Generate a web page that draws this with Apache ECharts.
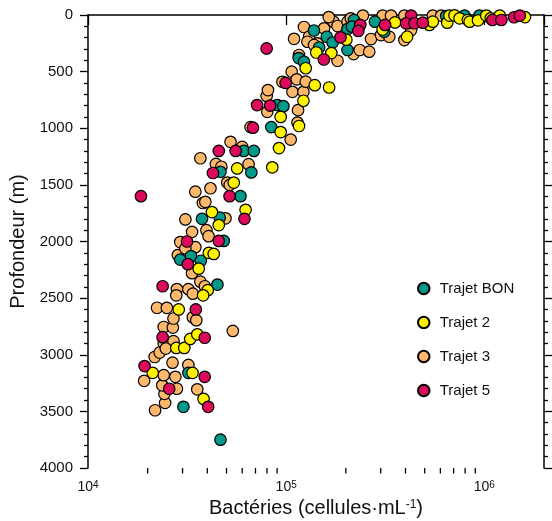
<!DOCTYPE html>
<html>
<head>
<meta charset="utf-8">
<script src="https://cdn.jsdelivr.net/npm/echarts@6/dist/echarts.min.js"></script>
<style>
html,body{margin:0;padding:0;background:#fff;}
#chart{width:552px;height:521px;}
</style>
</head>
<body>
<div id="chart"></div>
<script>
// ---- data (cells per mL, depth in m) ----
const seriesNames = ['Trajet BON', 'Trajet 2', 'Trajet 3', 'Trajet 5'];

const bonCells = [46600,30300,32100,45000,33100,29200,37100,37600,46200,48400,58800,66700,46600,61100,68700,84100,90200,96800,115600,123000,138000,146600,160300,171400,204000,204000,219800,280500,312600,642000,794000,944000,214600];
const bonDepth = [3750,3460,3160,2380,2130,2160,2170,1800,1790,1995,1600,1390,1385,1200,1200,990,795,805,380,413,137,287,192,243,124,309,44,59,148,9,5,5,103];

const t2Cells = [38300,33700,21200,27900,30600,32800,35600,28700,40200,38100,36200,40700,43100,45700,42200,62400,54400,56600,85100,92000,93800,93800,116100,122200,139400,164700,125500,141900,169000,201300,306700,354200,407700,411000,528000,549500,650000,667000,707000,750000,826000,843000,929000,1023000,1077000,1196000,1603000];
const t2Depth = [3390,3160,3160,2940,2940,2860,2820,2600,2430,2475,2240,2100,2110,1855,1740,1720,1480,1355,1345,1175,1034,900,980,757,620,640,470,331,336,218,128,66,192,73,88,59,68,5,3,29,44,59,47,5,29,5,18];

const t3Cells = [21800,24500,24300,23700,28100,24100,27600,19200,35600,32100,26700,21700,23000,24100,27000,24700,24100,26800,53800,27000,33800,35200,22300,25000,28100,32100,27900,33800,36900,38900,33500,28400,34800,29200,31000,33500,39600,40600,31000,49400,38000,39100,34800,41500,50400,51900,44200,47100,64600,36900,52400,60000,66100,79700,80300,80900,105400,114000,114800,95700,107500,122200,106600,113000,125500,116100,109600,123000,130400,128000,143900,138300,155300,173300,181600,204000,181600,218800,235000,262500,267900,212000,394800,306900,338000,394800,549500,606000,300800,331500,427000,164000,243800];
const t3Depth = [3490,3425,3345,3270,3300,3180,3195,3230,3305,3090,3070,3020,2980,2900,2880,2945,2755,2760,2790,2680,2668,2695,2585,2586,2420,2421,2475,2461,2355,2395,2280,2120,2050,2005,2061,1915,1900,1953,1805,1795,1660,1650,1560,1530,1480,1500,1315,1340,1317,1265,1120,1165,990,715,855,663,1100,950,840,590,678,678,500,568,589,353,210,106,192,236,250,265,118,59,97,59,404,345,309,324,212,29,221,5,5,5,5,5,177,192,133,18,5];

const t5Cells = [19300,25700,38800,40400,23800,38800,35000,23800,31900,31600,18500,45700,61600,51800,42700,45700,55600,68000,71300,83000,79700,99400,154900,188000,236500,231200,315400,427000,403000,444000,489500,1099000,1219000,1413000,1510000];
const t5Depth = [3100,3300,3195,3460,2845,2850,2600,2395,2200,2000,1600,1995,1800,1600,1395,1200,1200,995,795,800,295,600,393,197,88,141,88,5,73,73,68,44,44,20,5];

const xMinorTickValues = [2e4,3e4,4e4,5e4,6e4,7e4,8e4,9e4,2e5,3e5,4e5,5e5,6e5,7e5,8e5,9e5];

const colors = {
  'Trajet BON': '#00998a',
  'Trajet 2': '#fff200',
  'Trajet 3': '#fdb86c',
  'Trajet 5': '#dc0a5c'
};

function pairs(xs, ys){ return xs.map((x,i)=>[x, ys[i]]); }

const FONT = '"Liberation Sans", Arial, Helvetica, sans-serif';

const chart = echarts.init(document.getElementById('chart'), null, {renderer:'canvas'});

function scatter(name, xs, ys){
  return {
    name: name,
    type: 'scatter',
    xAxisIndex: 0, yAxisIndex: 0,
    data: pairs(xs, ys),
    symbol: 'circle',
    symbolSize: 11.5,
    itemStyle: { color: colors[name], borderColor: '#000', borderWidth: 1.2, opacity: 1 },
    emphasis: { disabled: true }
  };
}

const axisLineStyle = { color: '#000', width: 1.5 };

const option = {
  animation: false,
  backgroundColor: '#fff',
  textStyle: { fontFamily: FONT },
  grid: { left: 88, right: 8, top: 15, bottom: 53, containLabel: false, outerBoundsMode: 'none' },
  legend: {
    data: seriesNames,
    orient: 'vertical',
    left: 412,
    top: 276,
    itemWidth: 22,
    itemHeight: 11.5,
    itemGap: 19,
    icon: 'circle',
    selectedMode: false,
    textStyle: { fontSize: 15, color: '#111', fontFamily: FONT }
  },
  xAxis: [{
    type: 'log',
    logBase: 10,
    min: 1e4,
    max: 2e6,
    position: 'bottom',
    name: 'Bactéries (cellules·mL{s|-1})',
    nameLocation: 'middle',
    nameGap: 29,
    nameTextStyle: {
      fontSize: 20, color: '#111', fontFamily: FONT,
      rich: { s: { fontSize: 12, verticalAlign: 'top', color: '#111', fontFamily: FONT } }
    },
    axisLine: { show: true, lineStyle: axisLineStyle },
    axisTick: { show: true, inside: false, length: 10, lineStyle: { color: '#000', width: 1.3 } },
    minorTick: { show: false },
    splitLine: { show: false },
    axisLabel: {
      margin: 12,
      formatter: function(v){
        const e = Math.log10(v);
        const r = Math.round(e);
        if (Math.abs(e - r) > 1e-6) return '';
        return '{b|10}{s|' + r + '}';
      },
      rich: {
        b: { fontSize: 14, color: '#111', fontFamily: FONT },
        s: { fontSize: 10, color: '#111', fontFamily: FONT, verticalAlign: 'top' }
      }
    }
  }],
  yAxis: [{
    type: 'value',
    inverse: true,
    min: 0, max: 4000, interval: 500,
    position: 'left',
    name: 'Profondeur (m)',
    nameLocation: 'middle',
    nameGap: 60,
    nameRotate: 90,
    nameTextStyle: { fontSize: 20, color: '#111', fontFamily: FONT },
    axisLine: { show: true, lineStyle: axisLineStyle },
    axisTick: { show: true, inside: false, length: 8, lineStyle: { color: '#000', width: 1.3 } },
    minorTick: { show: true, splitNumber: 5, length: 4, lineStyle: { color: '#000', width: 1.3 } },
    splitLine: { show: false },
    minorSplitLine: { show: false },
    axisLabel: {
      margin: 15, fontSize: 15, color: '#111', fontFamily: FONT,
      formatter: function(v){ return String(v); }
    }
  }, {
    type: 'value',
    inverse: true,
    min: 0, max: 4000, interval: 500,
    position: 'right',
    axisLine: { show: true, lineStyle: axisLineStyle },
    axisTick: { show: true, inside: false, length: 8, lineStyle: { color: '#000', width: 1.3 } },
    minorTick: { show: true, splitNumber: 5, length: 4, lineStyle: { color: '#000', width: 1.3 } },
    splitLine: { show: false },
    axisLabel: { show: false }
  }],
  series: [
    {
      name: 'xMinorTicks',
      type: 'custom',
      xAxisIndex: 0, yAxisIndex: 0,
      clip: false,
      silent: true,
      z: 1,
      data: xMinorTickValues.map(v => [v, 4000]),
      renderItem: function(params, api){
        const p = api.coord([api.value(0), api.value(1)]);
        return {
          type: 'line',
          shape: { x1: p[0], y1: p[1], x2: p[0], y2: p[1] + 5.5 },
          style: { stroke: '#000', lineWidth: 1.3 }
        };
      }
    },
    scatter('Trajet 3', t3Cells, t3Depth),
    scatter('Trajet BON', bonCells, bonDepth),
    scatter('Trajet 2', t2Cells, t2Depth),
    scatter('Trajet 5', t5Cells, t5Depth)
  ]
};

chart.setOption(option);
</script>
</body>
</html>
